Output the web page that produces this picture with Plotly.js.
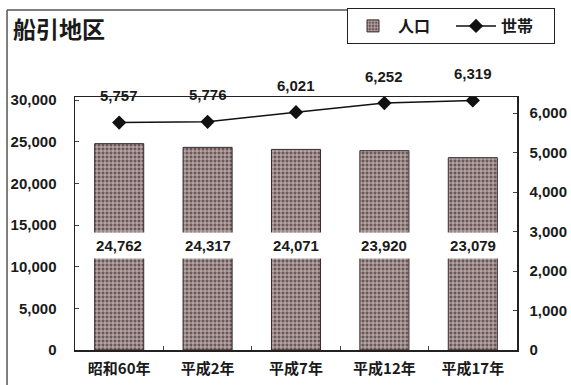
<!DOCTYPE html>
<html>
<head>
<meta charset="utf-8">
<script src="https://cdn.plot.ly/plotly-3.0.1.min.js"></script>
<style>
  html, body { margin: 0; padding: 0; background: #fff; }
  #chart { width: 571px; height: 385px; }
</style>
</head>
<body>
<div id="chart"></div>
<script>
// 船引地区 — 人口 (bars, left axis) and 世帯 (line, right axis)
const years = ['昭和60年', '平成2年', '平成7年', '平成12年', '平成17年'];
const population = [24762, 24317, 24071, 23920, 23079];
const households = [5757, 5776, 6021, 6252, 6319];

const popTicks = [0, 5000, 10000, 15000, 20000, 25000, 30000];
const hhTicks = [0, 1000, 2000, 3000, 4000, 5000, 6000];

const fmt = v => v.toLocaleString('en-US');
const numFont = { family: 'Liberation Sans, Arial, sans-serif', size: 15, color: '#1a1a1a', weight: 'bold' };
const cjkFont = 'Noto Sans CJK JP, sans-serif';

const bars = {
  type: 'bar',
  name: '人口',
  x: years,
  y: population,
  yaxis: 'y',
  marker: {
    color: '#6a5557',
    line: { color: '#3a2a2b', width: 1 },
    pattern: { shape: '+', fgcolor: '#d2c5c5', bgcolor: '#6a5557', size: 4, solidity: 0.4 }
  },
  hoverinfo: 'x+y'
};

const line = {
  type: 'scatter',
  mode: 'lines+markers',
  name: '世帯',
  x: years,
  y: households,
  yaxis: 'y2',
  line: { color: '#111', width: 1.5 },
  marker: { symbol: 'diamond', size: 11, color: '#111' }
};

// value labels: population inside the bars on a white box, households above the points
const annotations = [];
years.forEach((yr, i) => {
  annotations.push({
    x: yr, y: 12600, xref: 'x', yref: 'y',
    text: fmt(population[i]), showarrow: false,
    font: numFont,
    bgcolor: '#ffffff', width: 54, height: 25, borderpad: 0
  });
  annotations.push({
    x: yr, y: households[i], xref: 'x', yref: 'y2',
    text: fmt(households[i]), showarrow: false, yshift: 27,
    font: numFont
  });
});

annotations.push({
  xref: 'paper', yref: 'paper', x: -0.145, y: 1.2727,
  xanchor: 'left', yanchor: 'middle', showarrow: false,
  text: '船引地区', font: { family: cjkFont, size: 23, color: '#1a1a1a', weight: 'bold' }
});

const layout = {
  width: 571, height: 385,
  margin: { l: 75, r: 54, t: 97, b: 35, autoexpand: false },
  paper_bgcolor: '#ffffff',
  plot_bgcolor: '#ffffff',
  bargap: 0.445,
  showlegend: true,
  legend: {
    orientation: 'h',
    x: 0.6154, y: 1.3518, xanchor: 'left', yanchor: 'top',
    bordercolor: '#222', borderwidth: 1, bgcolor: '#ffffff',
    font: { family: cjkFont, size: 16, color: '#1a1a1a', weight: 'bold' },
    itemwidth: 40, entrywidth: 48
  },
  xaxis: {
    type: 'category',
    showline: true, linecolor: '#222', linewidth: 1.5, mirror: true,
    ticks: 'inside', tickson: 'boundaries', ticklen: 4, tickcolor: '#444',
    tickfont: { family: cjkFont, size: 15, color: '#1a1a1a', weight: 'bold' },
    ticklabelstandoff: 4,
    showgrid: false, fixedrange: true
  },
  yaxis: {
    range: [0, 30360],
    tickvals: popTicks, ticktext: popTicks.map(fmt),
    showline: true, linecolor: '#222', linewidth: 1.5,
    ticks: 'inside', ticklen: 4, tickcolor: '#444',
    tickfont: numFont, ticklabelstandoff: 14,
    showgrid: false, zeroline: false, fixedrange: true
  },
  yaxis2: {
    overlaying: 'y', side: 'right',
    range: [0, 6405],
    tickvals: hhTicks, ticktext: hhTicks.map(fmt),
    showline: true, linecolor: '#222', linewidth: 1.5,
    ticks: 'inside', ticklen: 4, tickcolor: '#444',
    tickfont: numFont, ticklabelstandoff: 8,
    showgrid: false, zeroline: false, fixedrange: true
  },
  shapes: [
    // outer frame (left and top edges)
    { type: 'line', xref: 'paper', yref: 'paper', x0: -0.1538, x1: -0.1538, y0: -0.14, y1: 1.3439,
      line: { color: '#555', width: 1.5 } },
    { type: 'line', xref: 'paper', yref: 'paper', x0: -0.1538, x1: 0.6154, y0: 1.3439, y1: 1.3439,
      line: { color: '#555', width: 1.5 } }
  ],
  annotations: annotations
};

Plotly.newPlot('chart', [bars, line], layout, { displayModeBar: false, staticPlot: true });
</script>
</body>
</html>
